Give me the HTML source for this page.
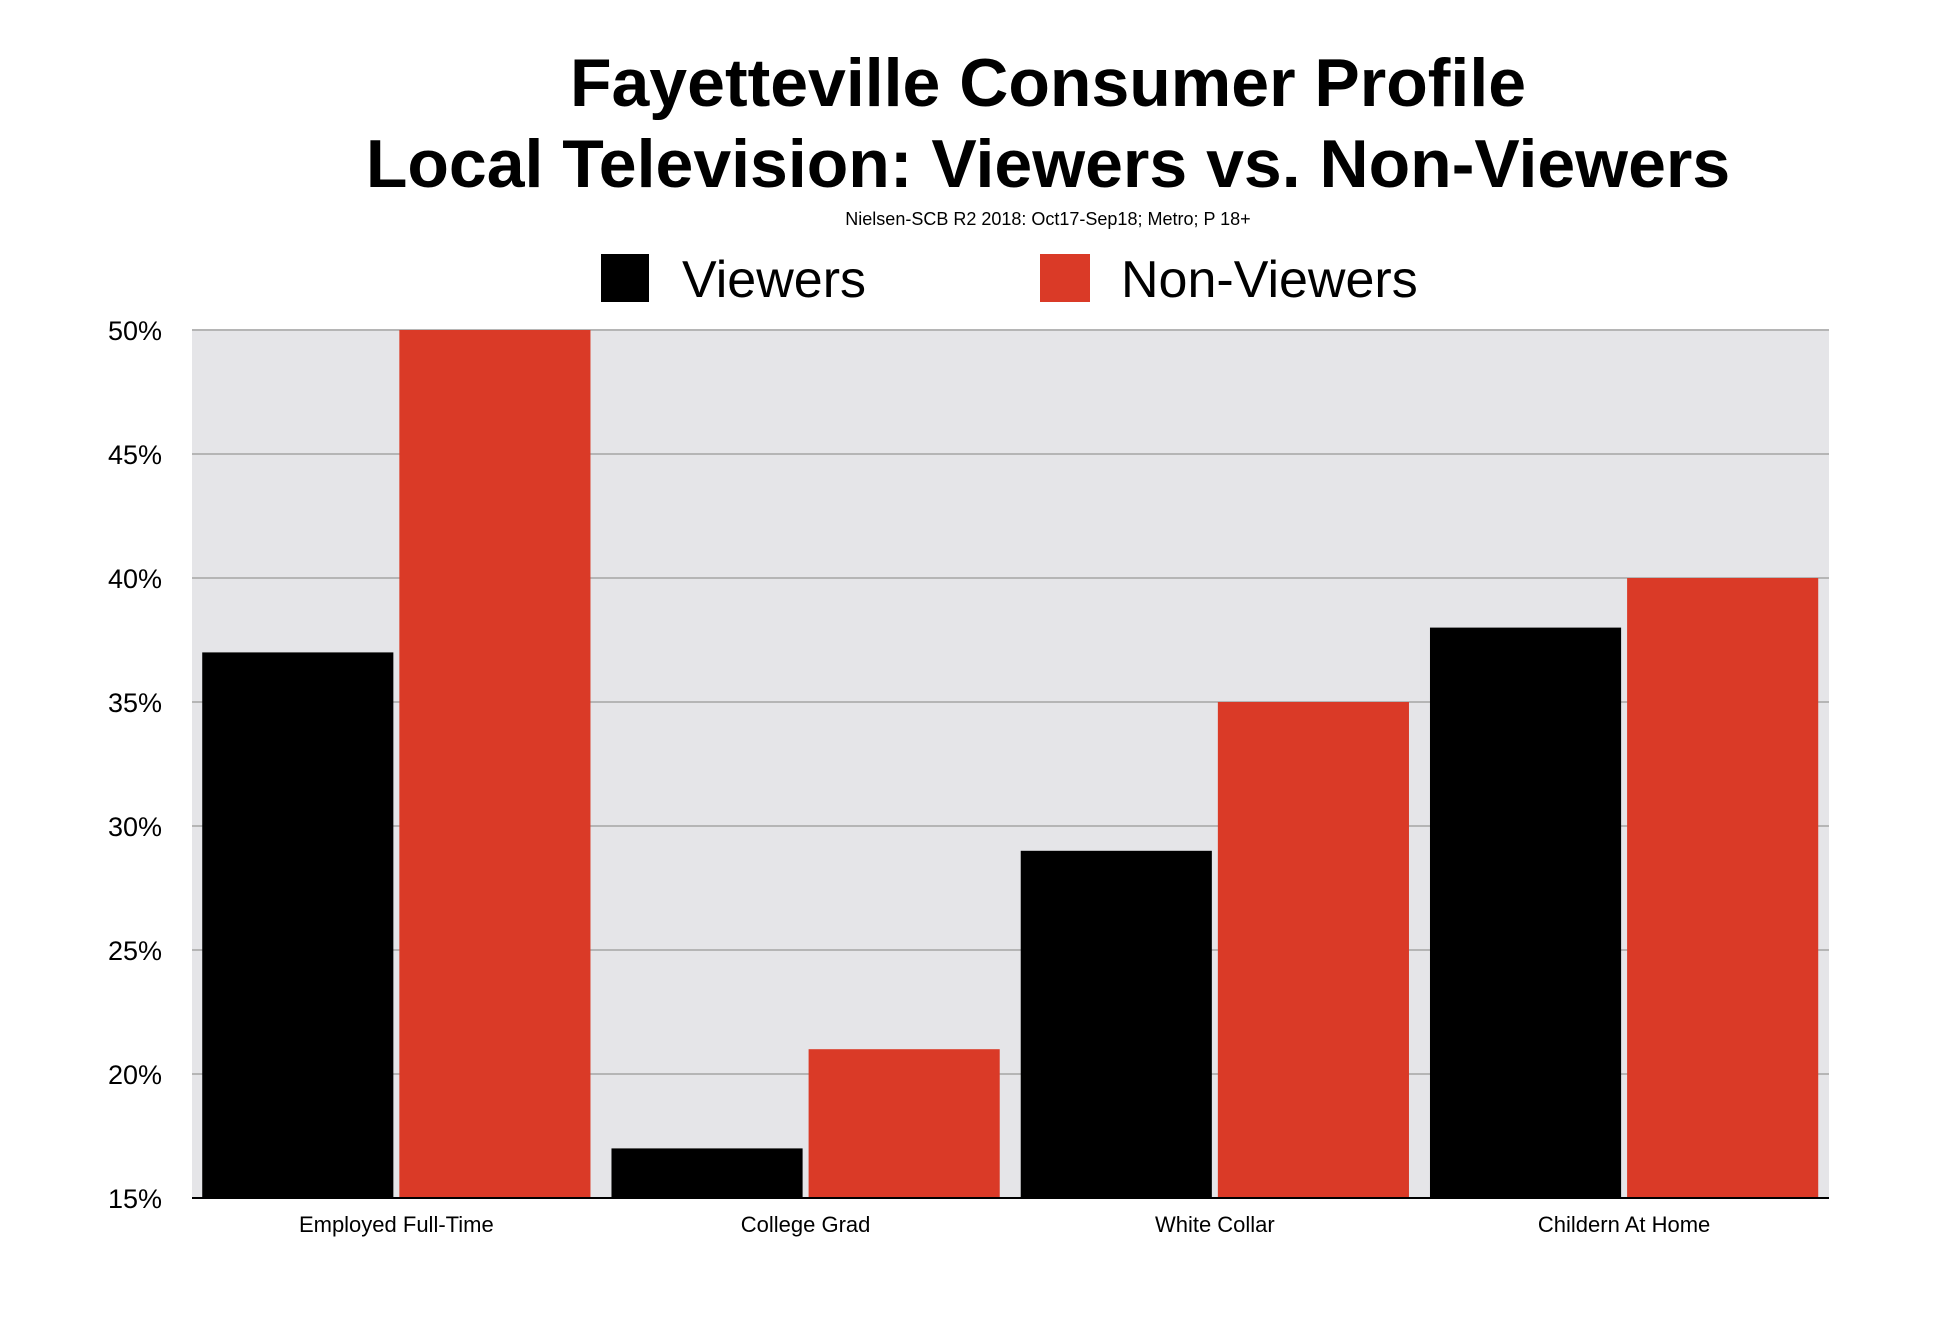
<!DOCTYPE html>
<html><head><meta charset="utf-8"><style>
html,body{margin:0;padding:0;background:#fff;}
svg{display:block;font-family:"Liberation Sans",Arial,sans-serif;}
</style></head><body>
<svg id="chart" width="1950" height="1336" viewBox="0 0 1950 1336">
<text x="1048" y="106" text-anchor="middle" font-size="68" font-weight="bold">Fayetteville Consumer Profile</text>
<text x="1048" y="187" text-anchor="middle" font-size="68" font-weight="bold">Local Television: Viewers vs. Non-Viewers</text>
<text x="1048" y="225" text-anchor="middle" font-size="18">Nielsen-SCB R2 2018: Oct17-Sep18; Metro; P 18+</text>
<g>
<rect x="601" y="254" width="48" height="48" fill="#000"/>
<text x="682" y="297" font-size="52">Viewers</text>
<rect x="1040" y="254" width="50" height="48" fill="#da3a27"/>
<text x="1121" y="297" font-size="52">Non-Viewers</text>
</g>
<rect x="192" y="330" width="1637" height="868" fill="#e5e5e8"/>
<g id="grid"></g>
<g id="bars"></g>
<line x1="192" y1="1198" x2="1829" y2="1198" stroke="#000" stroke-width="2"/>
<g id="labels"></g>
</svg>
<script>
const categories = ["Employed Full-Time","College Grad","White Collar","Childern At Home"];
const viewers = [37,17,29,38];
const nonViewers = [50,21,35,40];
const yTicks = [15,20,25,30,35,40,45,50];
const yMin = 15, yMax = 50;
const L=192,R=1829,T=330,B=1198;
const NS="http://www.w3.org/2000/svg";
function y(v){return B-(v-yMin)/(yMax-yMin)*(B-T);}
const band=(R-L)/categories.length;
function bx(i){return L+i*band;}
const grid=document.getElementById('grid'),bars=document.getElementById('bars'),labels=document.getElementById('labels');
yTicks.forEach(t=>{
  if(t!==yMin){
    const l=document.createElementNS(NS,'line');
    
    
    l.setAttribute('x1',L);l.setAttribute('x2',R);l.setAttribute('y1',y(t));l.setAttribute('y2',y(t));
    l.setAttribute('stroke','#b5b5b5');l.setAttribute('stroke-width','2');
    grid.appendChild(l);
  }
  const tx=document.createElementNS(NS,'text');
  
  
  tx.setAttribute('x',162);tx.setAttribute('y',y(t)+10);tx.setAttribute('text-anchor','end');tx.setAttribute('font-size','27');
  tx.textContent=t+'%';labels.appendChild(tx);
});
const bw=band*0.467, gap=6, off=band*0.025;
categories.forEach((c,i)=>{
  const x0=bx(i)+off;
  const b1=document.createElementNS(NS,'rect');
  
  
  b1.setAttribute('x',x0);b1.setAttribute('y',y(viewers[i]));b1.setAttribute('width',bw);b1.setAttribute('height',B-y(viewers[i]));b1.setAttribute('fill','#000');
  bars.appendChild(b1);
  const b2=document.createElementNS(NS,'rect');
  
  
  b2.setAttribute('x',x0+bw+gap);b2.setAttribute('y',y(nonViewers[i]));b2.setAttribute('width',bw);b2.setAttribute('height',B-y(nonViewers[i]));b2.setAttribute('fill','#da3a27');
  bars.appendChild(b2);
  const tx=document.createElementNS(NS,'text');
  
  
  tx.setAttribute('x',x0+bw+gap/2);tx.setAttribute('y',1232);tx.setAttribute('text-anchor','middle');tx.setAttribute('font-size','22');
  tx.textContent=c;labels.appendChild(tx);
});
</script>
</body></html>
